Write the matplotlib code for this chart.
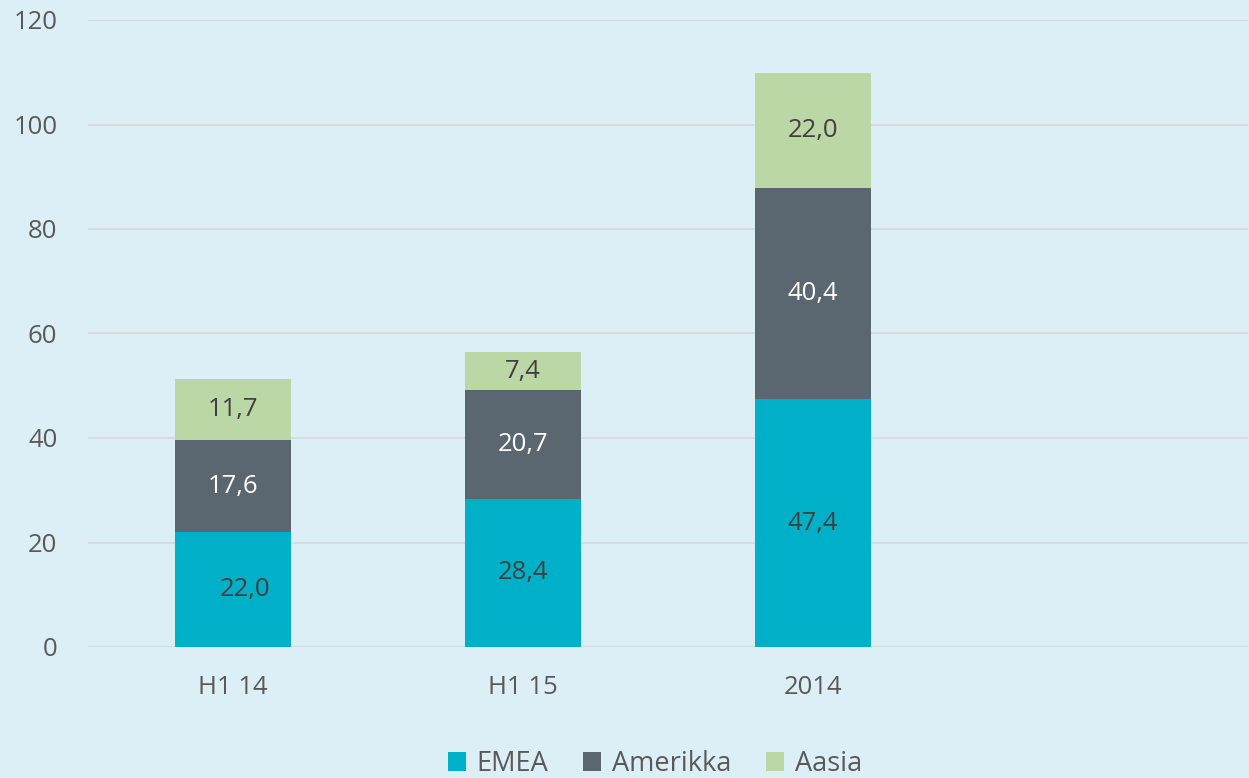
import matplotlib.pyplot as plt

# Data
categories = ["H1 14", "H1 15", "2014"]
emea = [22.0, 28.4, 47.4]
amerikka = [17.6, 20.7, 40.4]
aasia = [11.7, 7.4, 22.0]

bg = "#DCEFF6"
c_emea = "#00B0C8"
c_amer = "#5A6670"
c_aasia = "#BBD7A5"
txt = "#595959"

plt.rcParams["font.family"] = ["Open Sans", "DejaVu Sans"]

fig = plt.figure(figsize=(12.49, 7.78), dpi=100, facecolor=bg)
ax = fig.add_axes([88 / 1249, 1 - 647 / 778, 1160 / 1249, 627 / 778])
ax.set_facecolor(bg)

x = list(range(len(categories)))
w = 0.403
b1 = ax.bar(x, emea, w, color=c_emea, label="EMEA", zorder=3)
bottom2 = emea
b2 = ax.bar(x, amerikka, w, bottom=bottom2, color=c_amer, label="Amerikka", zorder=3)
bottom3 = [a + b for a, b in zip(emea, amerikka)]
b3 = ax.bar(x, aasia, w, bottom=bottom3, color=c_aasia, label="Aasia", zorder=3)

# value labels
for i in x:
    dx = 0.04 if i == 0 else 0
    ax.text(i + dx, emea[i] / 2, f"{emea[i]:.1f}".replace(".", ","),
            ha="center", va="center", fontsize=18.5, color="#404040", zorder=4)
    ax.text(i, bottom2[i] + amerikka[i] / 2, f"{amerikka[i]:.1f}".replace(".", ","),
            ha="center", va="center", fontsize=18.5, color="white", zorder=4)
    ax.text(i, bottom3[i] + aasia[i] / 2, f"{aasia[i]:.1f}".replace(".", ","),
            ha="center", va="center", fontsize=18.5, color="#404040", zorder=4)

ax.set_xlim(-0.5, 3.5)
ax.set_ylim(0, 120)
ax.set_yticks(range(0, 121, 20))
ax.set_xticks(x)
ax.set_xticklabels(categories)
ax.grid(axis="y", color="#D5DCDF", linewidth=1.5, zorder=0)
for s in ax.spines.values():
    s.set_visible(False)
ax.tick_params(axis="both", length=0, labelsize=18.5, colors=txt)
ax.tick_params(axis="y", pad=22)
ax.tick_params(axis="x", pad=20)

leg = fig.legend(handles=[b1, b2, b3], loc="center", bbox_to_anchor=(655 / 1249, 1 - 764 / 778),
                 ncol=3, frameon=False, fontsize=19.5, handlelength=0.65, handleheight=0.65,
                 handletextpad=0.4, columnspacing=1.3, labelcolor=txt)

fig.savefig("out.png", dpi=100, facecolor=bg)
